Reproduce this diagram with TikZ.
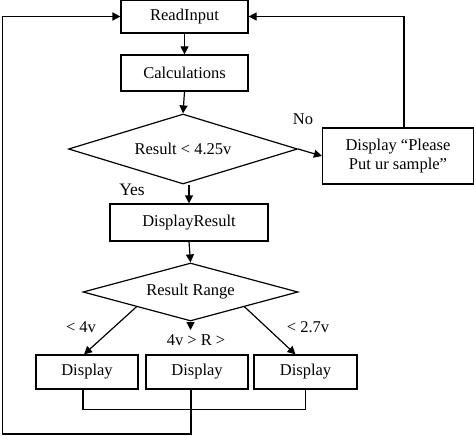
\documentclass[tikz,border=0pt]{standalone}
\usepackage{fontspec}
\setmainfont{Liberation Serif}
\usetikzlibrary{shapes.geometric,arrows.meta}
\begin{document}
\begin{tikzpicture}[x=1pt,y=-1pt,
  every node/.style={font=\fontsize{16.5}{19}\selectfont},
  box/.style={draw,line width=1.2pt,rectangle,inner sep=0pt,align=center},
  dia/.style={draw,line width=1.2pt,diamond,inner sep=0pt,align=center},
  conn/.style={line width=1.2pt,-{Triangle[length=8pt,width=8pt]}},
  plain/.style={line width=1.2pt},
  lbl/.style={inner sep=0pt}]
\useasboundingbox (0,0) rectangle (474,436);
\node[box,minimum width=127pt,minimum height=33pt] (read) at (184.5,16.5) {ReadInput};
\node[box,minimum width=127pt,minimum height=36pt] (calc) at (184.5,73) {Calculations};
\node[dia,aspect=3.27,minimum width=229pt,minimum height=70pt] (d1) at (183,149) {Result < 4.25v};
\node[box,minimum width=151pt,minimum height=56pt] (please) at (398,156) {Display “Please\\Put ur sample”};
\node[box,minimum width=158pt,minimum height=37pt] (dres) at (189,222.5) {DisplayResult};
\node[dia,aspect=3.71,minimum width=215pt,minimum height=58pt] (d2) at (190.5,292) {Result Range};
\node[box,minimum width=102pt,minimum height=34pt] (b1) at (87,372) {Display};
\node[box,minimum width=102pt,minimum height=34pt] (b2) at (197,372) {Display};
\node[box,minimum width=103pt,minimum height=34pt] (b3) at (305.5,372) {Display};
\node[lbl] (no) at (303,119) {No};
\node[lbl,font=\fontsize{17.5}{20}\selectfont] (yes) at (132,190) {Yes};
\node[lbl] (l1) at (81,327) {< 4v};
\node[lbl] (l2) at (196,340) {4v > R >};
\node[lbl] (l3) at (308,327) {< 2.7v};
\coordinate (mid) at (190.5,330);
\coordinate (cl) at (2.5,434);
\draw[conn] (read.south) -- (calc.north);
\draw[conn] (calc.south) -- (d1.north);
\draw[conn] (d1.east) -- (please.west);
\draw[conn] ([xshift=6pt]please.north) |- (read.east);
\draw[conn] (dres.north |- d1.south) -- (dres.north);
\draw[conn] (dres.south) -- (d2.north);
\draw[conn] (d2.south west) -- ([xshift=-3pt]b1.north);
\draw[conn] (d2.south east) -- ([xshift=-10pt]b3.north);
\draw[conn] (d2.south) -- (mid);
\draw[plain] ([xshift=-4pt]b1.south) -- ++(0,20) -| (b3.south);
\draw[conn,line width=1.8pt] ([xshift=-6pt]b2.south) |- (cl) |- (read.west);
\end{tikzpicture}
\end{document}
